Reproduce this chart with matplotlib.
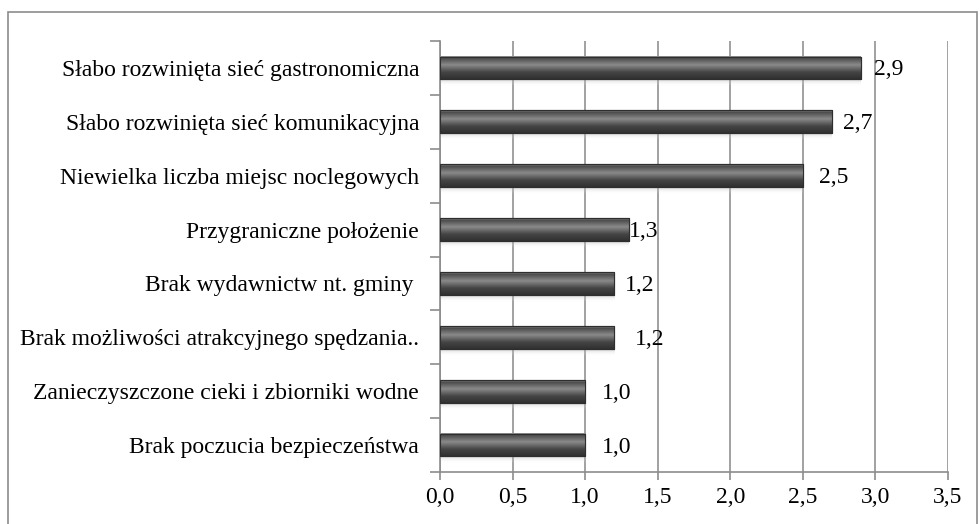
import numpy as np
import matplotlib.pyplot as plt
from matplotlib.colors import LinearSegmentedColormap
from matplotlib.patches import Rectangle

categories = [
    "Słabo rozwinięta sieć gastronomiczna",
    "Słabo rozwinięta sieć komunikacyjna",
    "Niewielka liczba miejsc noclegowych",
    "Przygraniczne położenie",
    "Brak wydawnictw nt. gminy ",
    "Brak możliwości atrakcyjnego spędzania..",
    "Zanieczyszczone cieki i zbiorniki wodne",
    "Brak poczucia bezpieczeństwa",
]
values = [2.9, 2.7, 2.5, 1.3, 1.2, 1.2, 1.0, 1.0]
xticks = [0.0, 0.5, 1.0, 1.5, 2.0, 2.5, 3.0, 3.5]

# label shifts (pixels) to mimic the original placement
label_dx = [13, 11, 16, 0, 11, 21, 17, 17]

plt.rcParams["font.family"] = ["Liberation Serif", "DejaVu Serif"]
plt.rcParams["font.size"] = 17

fig = plt.figure(figsize=(9.8, 5.24), dpi=100)
fig.patches.append(Rectangle((8 / 980, -0.05), 969 / 980, 1.05 - 12 / 524,
                             transform=fig.transFigure, fill=False,
                             edgecolor="#8c8c8c", linewidth=1.2))
ax = fig.add_axes([440 / 980, 52 / 524, 508 / 980, 431 / 524])

y = np.arange(len(categories))
h = 0.42
bar_cmap = LinearSegmentedColormap.from_list(
    "bevel", [(0.0, "#9a9a9a"), (0.08, "#4a4a4a"), (0.38, "#8a8a8a"),
              (0.7, "#454545"), (1.0, "#303030")])
grad = np.linspace(0, 1, 64).reshape(-1, 1)
shadow_cmap = LinearSegmentedColormap.from_list(
    "shadow", [(0, (0.6, 0.6, 0.6, 0.55)), (1, (1, 1, 1, 0))])

ax.set_axisbelow(True)
ax.grid(axis="x", color="#9a9a9a", linewidth=1.3)

bars = ax.barh(y, values, height=h, color="#505050", edgecolor="#2e2e2e",
               linewidth=0.8, zorder=3)
for yi, v, b in zip(y, values, bars):
    ax.imshow(grad, extent=(0, v, yi + h / 2, yi - h / 2), cmap=bar_cmap,
              aspect="auto", zorder=3.5, clip_path=b, clip_on=True)
    ax.imshow(grad, extent=(0, v, yi + h / 2 + 0.13, yi + h / 2),
              cmap=shadow_cmap, aspect="auto", zorder=2.5)
    ax.add_patch(Rectangle((0, yi - h / 2), v, h, fill=False,
                           edgecolor="#2e2e2e", linewidth=0.8, zorder=4))

for yi, v, dx in zip(y, values, label_dx):
    ax.annotate(f"{v:.1f}".replace(".", ","), (v, yi), xytext=(dx, -2),
                textcoords="offset pixels", va="center", ha="left",
                zorder=5)

ax.set_xlim(0, 3.5)
ax.set_ylim(len(categories) - 0.5, -0.5)
ax.set_xticks(xticks)
ax.set_xticklabels([f"{t:.1f}".replace(".", ",") for t in xticks])
ax.set_yticks(np.arange(len(categories) + 1) - 0.5)
ax.set_yticklabels([])
ax.set_yticks(y, minor=True)
ax.set_yticklabels(categories, minor=True)
ax.tick_params(axis="y", which="minor", length=0, pad=15)
ax.tick_params(axis="y", which="major", length=7, color="#8c8c8c", width=1.2)
ax.tick_params(axis="x", length=6, color="#8c8c8c", width=1.2, pad=5)

for s in ["top", "right"]:
    ax.spines[s].set_visible(False)
for s in ["left", "bottom"]:
    ax.spines[s].set_color("#8c8c8c")
    ax.spines[s].set_linewidth(1.2)

fig.savefig("out.png", dpi=100)
